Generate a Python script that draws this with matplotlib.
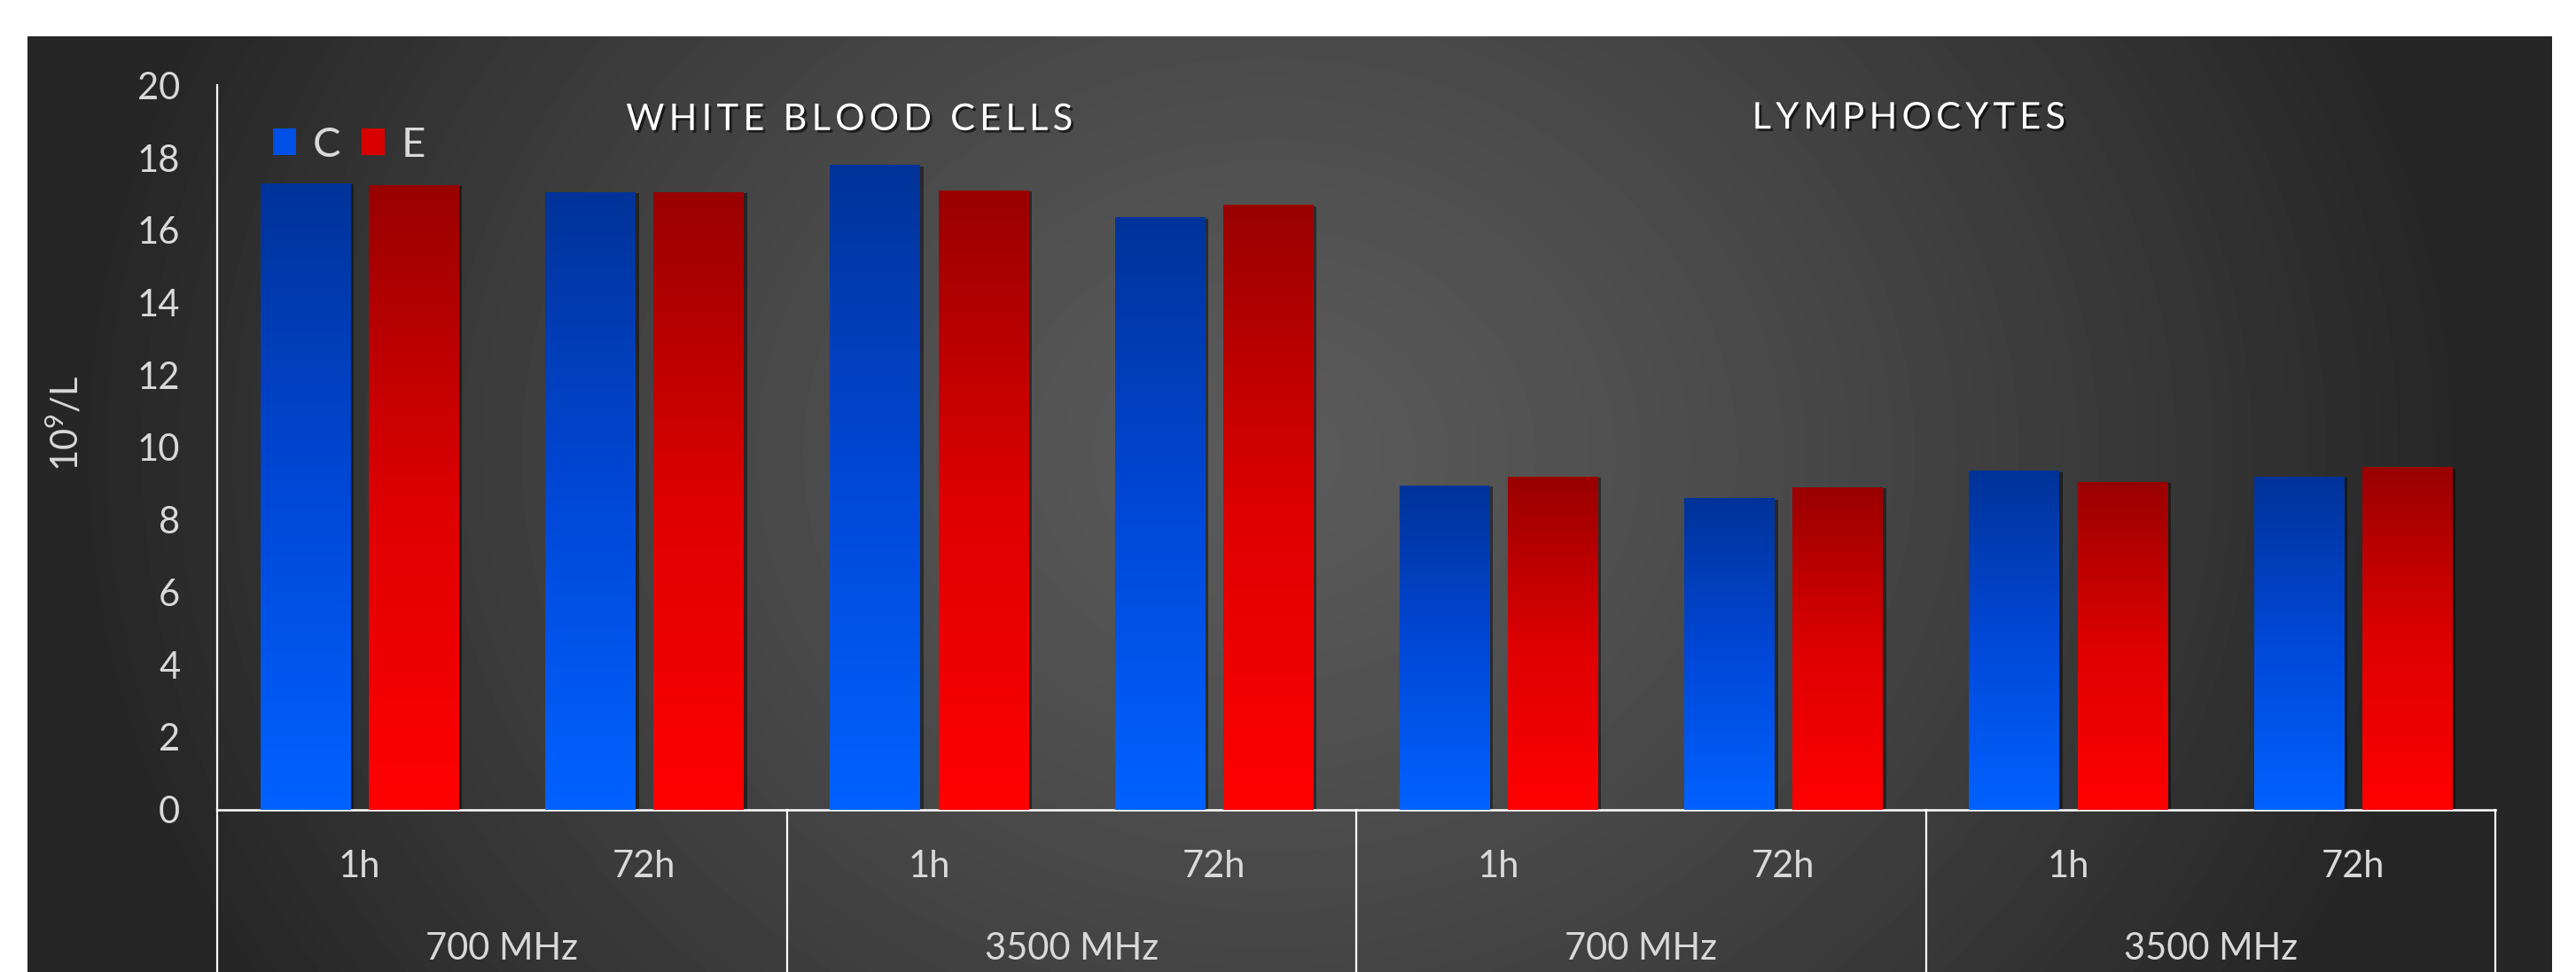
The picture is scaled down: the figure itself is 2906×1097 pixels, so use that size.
import numpy as np
import matplotlib
matplotlib.use("Agg")
import matplotlib.pyplot as plt
import matplotlib.patheffects as pe
from matplotlib.colors import LinearSegmentedColormap
from matplotlib.patches import Patch

plt.rcParams['font.family'] = ['Lato', 'DejaVu Sans']
plt.rcParams['mathtext.default'] = 'regular'

# data
times = ["1h", "72h", "1h", "72h", "1h", "72h", "1h", "72h"]
freqs = ["700 MHz", "3500 MHz", "700 MHz", "3500 MHz"]
panels = ["WHITE BLOOD CELLS", "LYMPHOCYTES"]
series = ["C", "E"]
wbc_c = [17.3, 17.05, 17.8, 16.35]
wbc_e = [17.25, 17.05, 17.1, 16.7]
lym_c = [8.95, 8.6, 9.35, 9.2]
lym_e = [9.2, 8.9, 9.05, 9.45]

vals_c = wbc_c + lym_c
vals_e = wbc_e + lym_e

W, H = 2906, 1097
fig = plt.figure(figsize=(W / 100, H / 100), dpi=100, facecolor='white')

# dark panel with a soft radial highlight
bg = fig.add_axes([31 / W, 0, (2879 - 31) / W, (H - 41) / H], zorder=0)
bw, bh = 2848, 1056
yy, xx = np.mgrid[0:bh:4, 0:bw:4]
r = np.sqrt(((xx - 1400) / 1350.0) ** 2 + ((yy - 470) / 1150.0) ** 2)
r = np.clip(r, 0, 1)
shade = 0x5a - (0x5a - 0x26) * r ** 1.3
bg.imshow(shade, cmap='gray', vmin=0, vmax=255, aspect='auto',
          extent=[0, 1, 0, 1], origin='upper', interpolation='bilinear')
bg.set_axis_off()

ax = fig.add_axes([245 / W, 183.4 / H, (2815 - 245) / W, (1000.6 - 183.4) / H], zorder=1)
ax.patch.set_alpha(0)

x = np.arange(len(times))
width = 0.315
off = 0.19

blue = LinearSegmentedColormap.from_list("b", ["#0062ff", "#0048d8", "#003399"])
red = LinearSegmentedColormap.from_list("r", ["#ff0000", "#dd0000", "#990000"])
grad = np.linspace(0, 1, 256).reshape(-1, 1)

shadow = [pe.SimplePatchShadow(offset=(3, -1), shadow_rgbFace='black', alpha=0.45), pe.Normal()]
bars_c = ax.bar(x - off, vals_c, width, color="#003399", zorder=2, path_effects=shadow)
bars_e = ax.bar(x + off, vals_e, width, color="#990000", zorder=2, path_effects=shadow)

for bars, cmap in ((bars_c, blue), (bars_e, red)):
    for b in bars:
        x0, w, h = b.get_x(), b.get_width(), b.get_height()
        ax.imshow(grad, cmap=cmap, aspect='auto', extent=[x0, x0 + w, 0, h],
                  origin='lower', zorder=3)

ax.set_xlim(-0.5, 7.5)
ax.set_ylim(0, 20)
ax.set_yticks(range(0, 21, 2))
ax.tick_params(axis='y', length=0, pad=30, labelsize=30, labelcolor='#d9d9d9')
ax.set_xticks([])
for s in ('top', 'right'):
    ax.spines[s].set_visible(False)
ax.spines['left'].set_color('white')
ax.spines['left'].set_linewidth(1.6)
ax.spines['bottom'].set_color('white')
ax.spines['bottom'].set_linewidth(1.8)

trans = ax.get_xaxis_transform()
for i, t in enumerate(times):
    ax.text(i, -0.079, t, transform=trans, ha='center', va='center',
            fontsize=30, color='#d9d9d9')
for g, f in enumerate(freqs):
    ax.text(2 * g + 0.5, -0.193, f, transform=trans, ha='center', va='center',
            fontsize=30, color='#d9d9d9')
for xb in [-0.5, 1.5, 3.5, 5.5, 7.5]:
    ax.plot([xb, xb], [0, -0.3], transform=trans, color='white', lw=1.6, clip_on=False)

title_fx = [pe.withSimplePatchShadow(offset=(2, -2), shadow_rgbFace='black', alpha=0.6)]
ax.text(1.72, 0.953, "\u2009".join(panels[0]), transform=trans, ha='center', va='center',
        fontsize=30, color='white', path_effects=title_fx)
ax.text(5.44, 0.955, "\u2009".join(panels[1]), transform=trans, ha='center', va='center',
        fontsize=30, color='white', path_effects=title_fx)

handles = [Patch(facecolor="#0050e8", label=series[0]), Patch(facecolor="#d80000", label=series[1])]
ax.legend(handles=handles, loc='upper left', bbox_to_anchor=(0.008, 0.995), ncol=2,
          frameon=False, fontsize=34, labelcolor='#d9d9d9', handlelength=0.55,
          handleheight=0.6, handletextpad=0.4, columnspacing=0.5)

fig.text(74 / W, 1 - 478 / H, "10$^{9}$/L", rotation=90, ha='center', va='center',
         fontsize=30, color='#d9d9d9')

fig.savefig("out.png", dpi=100, facecolor='white')
